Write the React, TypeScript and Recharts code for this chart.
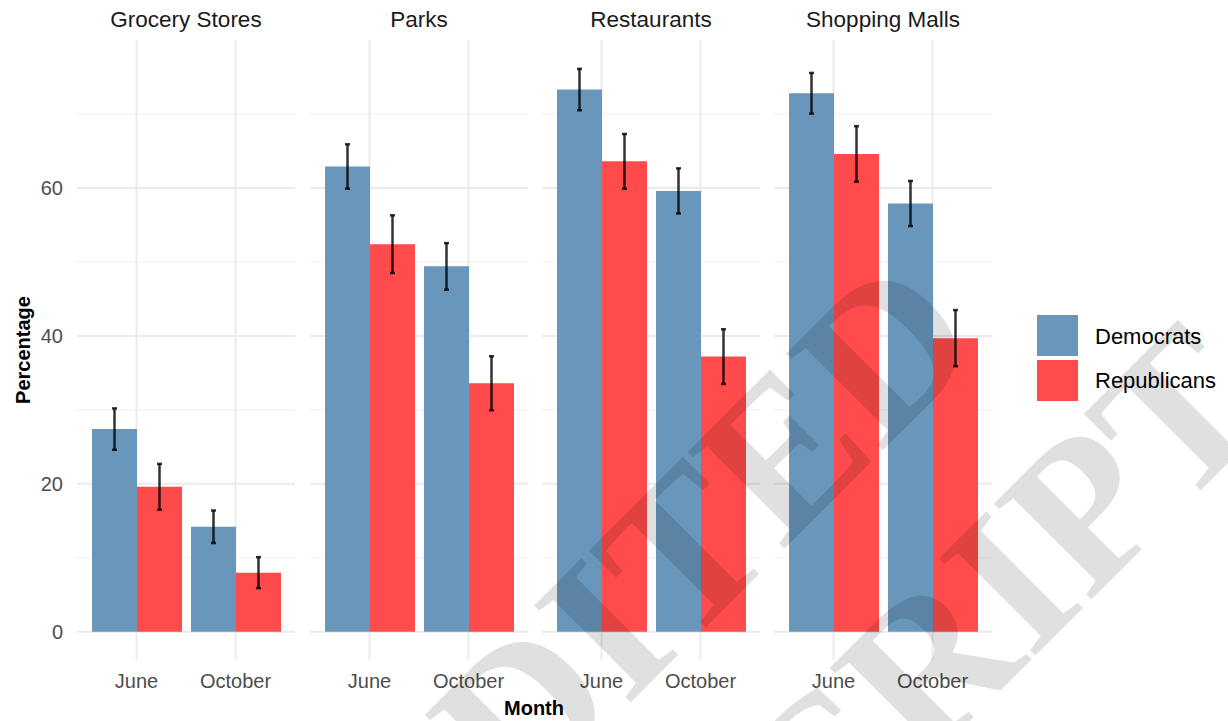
import { Bar, BarChart, CartesianGrid, ErrorBar, XAxis, YAxis } from 'recharts'

const venues = ['Grocery Stores', 'Parks', 'Restaurants', 'Shopping Malls']
const months = ['June', 'October']
const parties = ['Democrats', 'Republicans']

// mean percentage per venue, [June, October]
const demMeans = [[27.4, 14.2], [62.9, 49.4], [73.3, 59.6], [72.8, 57.9]]
const repMeans = [[19.6, 8.0], [52.4, 33.6], [63.6, 37.2], [64.6, 39.7]]
// half-width of the error bars
const demErrors = [[2.8, 2.2], [3.0, 3.15], [2.8, 3.05], [2.75, 3.05]]
const repErrors = [[3.1, 2.1], [3.9, 3.65], [3.7, 3.7], [3.75, 3.8]]

const yTicks = [0, 20, 40, 60]
const yMinorTicks = [10, 30, 50, 70]
const watermark = ['UNEDITED', 'MANUSCRIPT']

const colors = ['#6897BB', '#FF4B4B']
const panelLeft = [77, 310, 542, 774]
const PANEL_W = 218
const AXIS_W = 77
const H = 721
const Y_DOMAIN: [number, number] = [-3.81, 80]
const font = '"Liberation Sans", Arial, sans-serif'

function Panel({ index }: { index: number }) {
  const data = months.map((month, i) => ({
    month,
    dem: demMeans[index][i],
    demErr: demErrors[index][i],
    rep: repMeans[index][i],
    repErr: repErrors[index][i],
  }))
  const showY = index === 0

  return (
    <div style={{ position: 'absolute', left: showY ? 0 : panelLeft[index], top: 0 }}>
      <BarChart
        width={PANEL_W + (showY ? AXIS_W : 0)}
        height={H}
        data={data}
        margin={{ top: 40, right: 0, bottom: 0, left: 0 }}
        barGap={0}
        barSize={45}
      >
        <CartesianGrid stroke='#EBEBEB' strokeWidth={2} syncWithTicks />
        <CartesianGrid yAxisId='minor' vertical={false} stroke='#F0F0F0' strokeWidth={1} syncWithTicks />
        <XAxis
          dataKey='month'
          height={61}
          padding={{ left: 10, right: 10 }}
          axisLine={false}
          tickLine={false}
          tickSize={0}
          tickMargin={14}
          interval={0}
          tick={{ fontSize: 20, fill: '#4D4D4D', fontFamily: font }}
        />
        <YAxis
          domain={Y_DOMAIN}
          ticks={yTicks}
          allowDataOverflow
          width={AXIS_W}
          hide={!showY}
          axisLine={false}
          tickLine={false}
          tickSize={0}
          tickMargin={14}
          tick={{ fontSize: 20, fill: '#4D4D4D', fontFamily: font }}
        />
        <YAxis yAxisId='minor' domain={Y_DOMAIN} ticks={yMinorTicks} allowDataOverflow hide />
        <Bar dataKey='dem' name={parties[0]} fill={colors[0]} isAnimationActive={false}>
          <ErrorBar dataKey='demErr' width={2.5} stroke='#000' strokeOpacity={0.8} strokeWidth={2.5} />
        </Bar>
        <Bar dataKey='rep' name={parties[1]} fill={colors[1]} isAnimationActive={false}>
          <ErrorBar dataKey='repErr' width={2.5} stroke='#000' strokeOpacity={0.8} strokeWidth={2.5} />
        </Bar>
      </BarChart>
    </div>
  )
}

export default function App() {
  return (
    <div
      style={{
        position: 'absolute',
        left: 0,
        top: 0,
        width: 1228,
        height: H,
        background: '#fff',
        overflow: 'hidden',
        fontFamily: font,
      }}
    >
      {venues.map((_, i) => (
        <Panel key={i} index={i} />
      ))}
      <svg width={1228} height={H} style={{ position: 'absolute', left: 0, top: 0, pointerEvents: 'none' }}>
        {venues.map((venue, i) => (
          <text
            key={venue}
            x={panelLeft[i] + PANEL_W / 2}
            y={27}
            textAnchor='middle'
            fontSize={22.5}
            fill='#1A1A1A'
            fontFamily={font}
          >
            {venue}
          </text>
        ))}
        <text x={534} y={715} textAnchor='middle' fontSize={20} fontWeight='bold' fontFamily={font}>
          Month
        </text>
        <text
          x={30}
          y={350}
          textAnchor='middle'
          fontSize={20}
          fontWeight='bold'
          fontFamily={font}
          transform='rotate(-90 30 350)'
        >
          Percentage
        </text>
        {parties.map((party, i) => (
          <g key={party}>
            <rect x={1037} y={315 + i * 45} width={41} height={41} fill={colors[i]} />
            <text x={1095} y={344 + i * 44} fontSize={22} fill='#000' fontFamily={font}>
              {party}
            </text>
          </g>
        ))}
        <g
          fill='#000'
          fillOpacity={0.12}
          fontFamily='"Liberation Serif", "Times New Roman", serif'
          fontWeight='bold'
          fontSize={209}
        >
          {watermark.map((line, i) => {
            const x = i === 0 ? 597 : 776
            const y = i === 0 ? 736 : 915
            return (
              <text key={line} x={x} y={y} textAnchor='middle' transform={`rotate(-45 ${x} ${y})`}>
                {line}
              </text>
            )
          })}
        </g>
      </svg>
    </div>
  )
}
